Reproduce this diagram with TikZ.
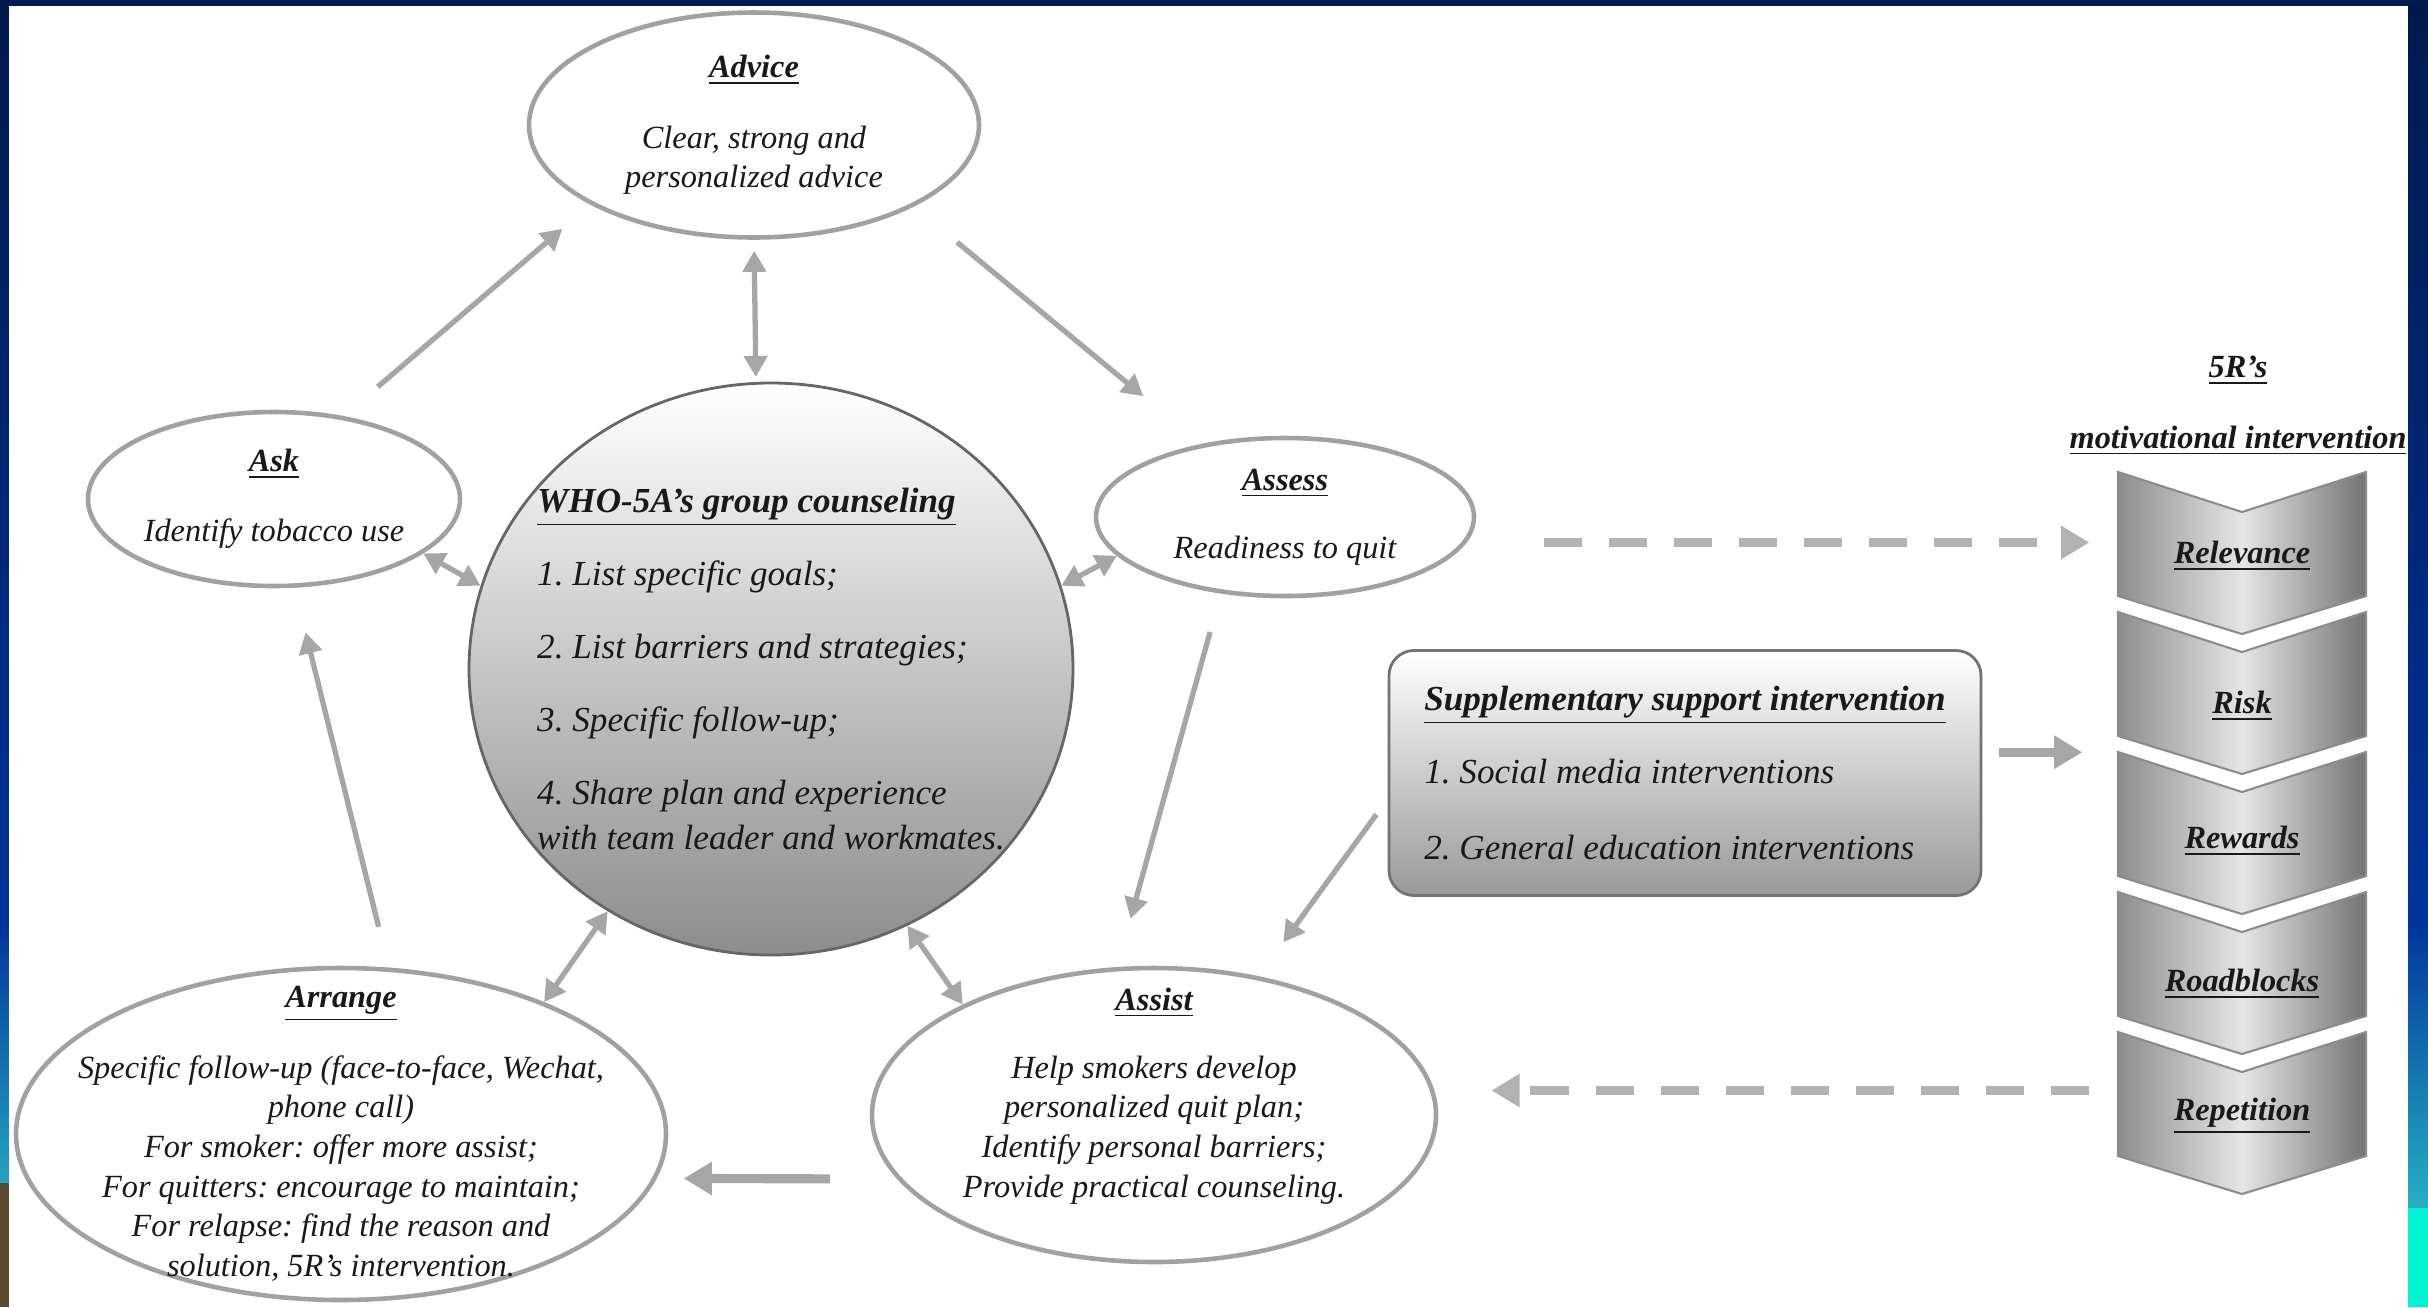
\documentclass[tikz,border=0pt]{standalone}
\usepackage{fontspec}
\setmainfont{Liberation Serif}
\frenchspacing
\usetikzlibrary{shapes.geometric,arrows.meta}
\definecolor{navytop}{HTML}{001A4D}
\definecolor{navymid}{HTML}{00339A}
\definecolor{stripteal}{HTML}{26B0C4}
\definecolor{stripbrown}{HTML}{5B4A2E}
\definecolor{stripcyan}{HTML}{00F2D2}
\tikzset{
	phasetext/.style={align=center, text=black!90, font=\fontsize{9.2}{11.3}\selectfont\itshape},
	phase/.style={phasetext, ellipse, draw=black!37, line width=1.3pt, inner sep=-1cm},
	core/.style={ellipse, draw=black!60, line width=0.8pt, top color=white, bottom color=black!45, inner sep=-1cm, align=left, text=black!90, font=\fontsize{10}{12.8}\selectfont\itshape},
	suppbox/.style={rectangle, rounded corners=0.25cm, draw=black!55, line width=0.8pt, top color=white, bottom color=black!40, inner sep=0pt, align=left, text=black!90, font=\fontsize{10}{12.8}\selectfont\itshape},
	headline/.style={align=center, text=black!90, font=\fontsize{9.2}{11.3}\selectfont\bfseries\itshape},
	chevron/.style={draw=black!45, line width=0.6pt, left color=black!45, right color=black!55, middle color=black!10},
	chevlabel/.style={text=black!90, font=\fontsize{9.2}{11.3}\selectfont\bfseries\itshape},
	stack/.style={rectangle, inner sep=0pt, minimum width=2.48cm, minimum height=7.22cm},
	arr/.style={draw=black!35, line width=1.5pt, -{Triangle[length=6pt,width=6.5pt]}},
	darr/.style={draw=black!35, line width=1.5pt, {Triangle[length=6pt,width=6.5pt]}-{Triangle[length=6pt,width=6.5pt]}},
	fatarr/.style={draw=black!35, line width=2.6pt, -{Triangle[length=8pt,width=9pt]}},
	dasharr/.style={draw=black!30, line width=2.4pt, dash pattern=on 11pt off 7.5pt, -{Triangle[length=8pt,width=9pt]}},
}
\begin{document}
\begin{tikzpicture}
	\useasboundingbox (0,0) rectangle (24.28,-13.07);
	\shade[top color=navytop, bottom color=navymid] (0,0) rectangle (24.28,-9.17);
	\shade[top color=navymid, bottom color=stripteal] (0,-9.17) rectangle (24.28,-12.08);
	\fill[stripcyan] (0,-12.08) rectangle (24.28,-13.07);
	\fill[stripbrown] (0,-11.83) rectangle (0.09,-13.07);
	\fill[white] (0.09,-0.06) rectangle (24.08,-13.07);

	\node[phase, minimum width=4.50cm, minimum height=2.25cm] (advice) at (7.54,-1.25) {\underline{\textbf{Advice}}\\[8.7pt]Clear, strong and\\personalized advice};
	\node[phase, minimum width=3.72cm, minimum height=1.74cm] (ask) at (2.74,-4.99) {\underline{\textbf{Ask}}\\[8.7pt]Identify tobacco use};
	\node[phase, minimum width=3.78cm, minimum height=1.58cm] (assess) at (12.85,-5.17) {\underline{\textbf{Assess}}\\[8pt]Readiness to quit};
	\node[core, minimum width=6.04cm, minimum height=5.72cm] (circ) at (7.71,-6.69) {\underline{\textbf{WHO-5A’s group counseling}}\\[8pt]1. List specific goals;\\[8pt]2. List barriers and strategies;\\[8pt]3. Specific follow-up;\\[8pt]4. Share plan and experience\\with team leader and workmates.};
	\node[phase, minimum width=5.64cm, minimum height=2.94cm] (assist) at (11.54,-11.15) {};
	\node[phasetext] (assisttext) at (11.54,-10.96) {\underline{\textbf{Assist}}\\[8pt]Help smokers develop\\personalized quit plan;\\Identify personal barriers;\\Provide practical counseling.};
	\node[phase, minimum width=6.50cm, minimum height=3.32cm] (arrange) at (3.41,-11.34) {\underline{\textbf{Arrange}}\\[8.7pt]Specific follow-up (face-to-face, Wechat,\\phone call)\\For smoker: offer more assist;\\For quitters: encourage to maintain;\\For relapse: find the reason and\\solution, 5R’s intervention.};
	\node[suppbox, minimum width=5.92cm, minimum height=2.45cm] (supp) at (16.85,-7.73) {\underline{\textbf{Supplementary support intervention}}\\[8pt]1. Social media interventions\\[9pt]2. General education interventions};

	\node[headline] (fiveRhead) at (22.38,-4.06) {\underline{5R’s}\\[8.7pt]\underline{motivational intervention}};
	\node[stack] (fiveR) at (22.42,-8.33) {};
	\draw[chevron] (21.18,-4.72) -- (22.42,-5.12) -- (23.66,-4.72) -- (23.66,-5.96) -- (22.42,-6.34) -- (21.18,-5.96) -- cycle;
	\node[chevlabel] (relevance) at (22.42,-5.56) {\underline{Relevance}};
	\draw[chevron] (21.18,-6.12) -- (22.42,-6.52) -- (23.66,-6.12) -- (23.66,-7.36) -- (22.42,-7.74) -- (21.18,-7.36) -- cycle;
	\node[chevlabel] (risk) at (22.42,-7.06) {\underline{Risk}};
	\draw[chevron] (21.18,-7.52) -- (22.42,-7.92) -- (23.66,-7.52) -- (23.66,-8.76) -- (22.42,-9.14) -- (21.18,-8.76) -- cycle;
	\node[chevlabel] (rewards) at (22.42,-8.41) {\underline{Rewards}};
	\draw[chevron] (21.18,-8.92) -- (22.42,-9.32) -- (23.66,-8.92) -- (23.66,-10.16) -- (22.42,-10.54) -- (21.18,-10.16) -- cycle;
	\node[chevlabel] (roadblocks) at (22.42,-9.84) {\underline{Roadblocks}};
	\draw[chevron] (21.18,-10.32) -- (22.42,-10.72) -- (23.66,-10.32) -- (23.66,-11.56) -- (22.42,-11.94) -- (21.18,-11.56) -- cycle;
	\node[chevlabel] (repetition) at (22.42,-11.16) {\underline{Repetition}};

	\draw[arr, shorten <=0.45cm, shorten >=0.37cm] (ask.50) -- (advice.206);
	\draw[arr, shorten <=0.56cm, shorten >=0.75cm] (advice.333) -- (assess.139);
	\draw[darr, shorten <=0.11cm, shorten >=0.05cm] (advice.south) -- (circ.93);
	\draw[darr] (ask.340) -- (circ.164);
	\draw[darr] (assess.193) -- (circ.16);
	\draw[arr, shorten <=0.4cm, shorten >=0.5cm] (assess.230) -- (assist.104);
	\draw[darr] (circ.236) -- (arrange.33);
	\draw[darr] (circ.298) -- (assist.150);
	\draw[fatarr, shorten <=0.67cm, shorten >=0.27cm] (assist.194) -- (arrange.352);
	\draw[arr, shorten <=0.42cm, shorten >=0.46cm] (arrange.74) -- (ask.283);
	\draw[arr, shorten <=0.19cm, shorten >=0.42cm] (supp.185) -- (assist.53);
	\draw[fatarr, shorten <=0.17cm, shorten >=0.35cm] (supp.4) -- (supp.4 -| fiveR.west);
	\draw[dasharr, shorten <=0.77cm, shorten >=0.28cm] (assess.352) -- (assess.352 -| fiveR.west);
	\draw[dasharr, shorten <=0.28cm, shorten >=0.57cm] (fiveR.west |- assist.5) -- (assist.5);
\end{tikzpicture}
\end{document}
